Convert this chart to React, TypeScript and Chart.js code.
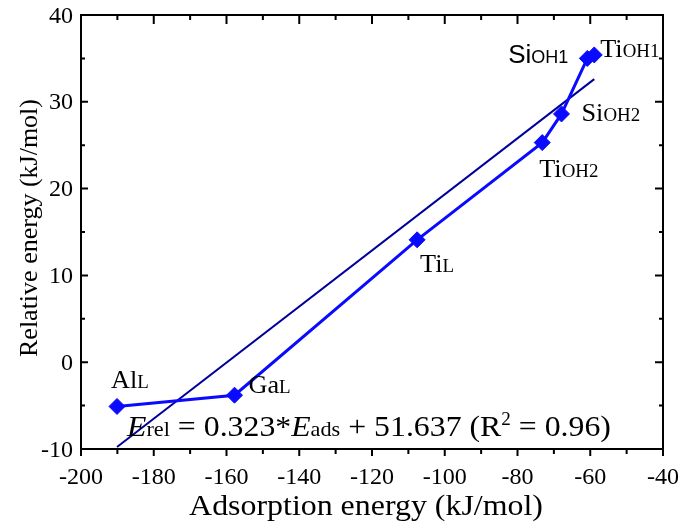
import React, { useEffect, useRef } from "react";
import { Chart, registerables } from "chart.js";

Chart.register(...registerables);

// ---------- data ----------
const pointNames = ["Al", "Ga", "Ti", "Ti", "Si", "Si", "Ti"];
const pointSubs = ["L", "L", "L", "OH2", "OH2", "OH1", "OH1"];
const adsorptionEnergy = [-190.1, -157.8, -107.6, -73.2, -67.9, -60.8, -58.9];
const relativeEnergy = [-5.1, -3.8, 14.1, 25.3, 28.6, 35.0, 35.4];
const fitX = [-190.1, -58.9];
const fitY = [-9.77, 32.61];
const xTickLabels = [-200, -180, -160, -140, -120, -100, -80, -60, -40];
const yTickLabels = [-10, 0, 10, 20, 30, 40];
const xTitle = "Adsorption energy (kJ/mol)";
const yTitle = "Relative energy (kJ/mol)";

// ---------- styles ----------
const BLUE = "#0a0aff";
const NAVY = "#00009a";
const SERIF = '"Liberation Serif", "Times New Roman", serif';
const SANS = '"Liberation Sans", Arial, sans-serif';

// label placement relative to each marker (dx, dy, align, family)
const labelPlacement = [
  { dx: -6, dy: -18, align: "left", sans: false },
  { dx: 14, dy: -2.5, align: "left", sans: false },
  { dx: 3, dy: 32, align: "left", sans: false },
  { dx: -3, dy: 34, align: "left", sans: false },
  { dx: 20, dy: 6.7, align: "left", sans: false },
  { dx: -19, dy: 5, align: "right", sans: true },
  { dx: 6, dy: 2.3, align: "left", sans: false },
];

type Run = { text: string; size: number; family: string; italic?: boolean; dy?: number };

function fontOf(r: Run) {
  return `${r.italic ? "italic " : ""}${r.size}px ${r.family}`;
}

function drawRuns(ctx: CanvasRenderingContext2D, runs: Run[], x: number, y: number, k: number, align: string) {
  let total = 0;
  const widths: number[] = [];
  for (const r of runs) {
    ctx.font = fontOf(r);
    const w = ctx.measureText(r.text).width * k;
    widths.push(w);
    total += w;
  }
  let cx = align === "right" ? x - total : align === "center" ? x - total / 2 : x;
  runs.forEach((r, i) => {
    ctx.save();
    ctx.font = fontOf(r);
    ctx.textAlign = "left";
    ctx.textBaseline = "alphabetic";
    ctx.translate(cx, y + (r.dy || 0));
    ctx.scale(k, 1);
    ctx.fillText(r.text, 0, 0);
    ctx.restore();
    cx += widths[i];
  });
}

const overlay = {
  id: "overlay",
  afterDraw(chart: any) {
    const ctx: CanvasRenderingContext2D = chart.ctx;
    const { left, right, top, bottom } = chart.chartArea;
    const xs = chart.scales.x;
    const ys = chart.scales.y;
    ctx.save();
    ctx.fillStyle = "#000";
    ctx.strokeStyle = "#000";

    // frame
    ctx.lineWidth = 2;
    ctx.beginPath();
    ctx.moveTo(left, bottom + 6);
    ctx.lineTo(left, top);
    ctx.lineTo(right, top);
    ctx.lineTo(right, bottom + 6);
    ctx.moveTo(left, bottom);
    ctx.lineTo(right, bottom);
    ctx.stroke();

    // ticks
    ctx.lineWidth = 2;
    ctx.beginPath();
    for (let i = 0; i < xTickLabels.length; i++) {
      const v = xTickLabels[i];
      const px = xs.getPixelForValue(v);
      ctx.moveTo(px, bottom); ctx.lineTo(px, bottom + 7);
      ctx.moveTo(px, top); ctx.lineTo(px, top + 9);
      if (i < xTickLabels.length - 1) {
        const m = xs.getPixelForValue((v + xTickLabels[i + 1]) / 2);
        ctx.moveTo(m, bottom); ctx.lineTo(m, bottom + 5);
        ctx.moveTo(m, top); ctx.lineTo(m, top + 5);
      }
    }
    for (let i = 0; i < yTickLabels.length; i++) {
      const v = yTickLabels[i];
      const py = ys.getPixelForValue(v);
      ctx.moveTo(left, py); ctx.lineTo(left + 7, py);
      ctx.moveTo(right, py); ctx.lineTo(right - 8, py);
      if (i < yTickLabels.length - 1) {
        const m = ys.getPixelForValue((v + yTickLabels[i + 1]) / 2);
        ctx.moveTo(left, m); ctx.lineTo(left + 4, m);
        ctx.moveTo(right, m); ctx.lineTo(right - 4, m);
      }
    }
    ctx.stroke();

    // tick labels
    for (const v of xTickLabels) {
      drawRuns(ctx, [{ text: String(v), size: 22.5, family: SERIF }], xs.getPixelForValue(v), bottom + 35, 1.07, "center");
    }
    for (const v of yTickLabels) {
      drawRuns(ctx, [{ text: String(v), size: 22.5, family: SERIF }], left - 8, ys.getPixelForValue(v) + 7.5, 1.07, "right");
    }

    // axis titles
    drawRuns(ctx, [{ text: xTitle, size: 29, family: SERIF }], (left + right) / 2 - 6, bottom + 66, 1.1, "center");
    ctx.save();
    ctx.translate(37, (top + bottom) / 2 - 4);
    ctx.rotate(-Math.PI / 2);
    drawRuns(ctx, [{ text: yTitle, size: 26, family: SERIF }], 0, 0, 1.0, "center");
    ctx.restore();

    // point labels
    for (let i = 0; i < pointNames.length; i++) {
      const p = labelPlacement[i];
      const px = xs.getPixelForValue(adsorptionEnergy[i]) + p.dx;
      const py = ys.getPixelForValue(relativeEnergy[i]) + p.dy;
      const fam = p.sans ? SANS : SERIF;
      drawRuns(
        ctx,
        [
          { text: pointNames[i], size: p.sans ? 26 : 25, family: fam },
          { text: pointSubs[i], size: 18, family: fam },
        ],
        px,
        py,
        p.sans ? 1.0 : 1.05,
        p.align
      );
    }

    // fit equation
    drawRuns(
      ctx,
      [
        { text: "E", size: 30, family: SERIF, italic: true },
        { text: "rel", size: 21, family: SERIF },
        { text: " = 0.323*", size: 30, family: SERIF },
        { text: "E", size: 30, family: SERIF, italic: true },
        { text: "ads", size: 21, family: SERIF },
        { text: " + 51.637 (R", size: 30, family: SERIF },
        { text: "2", size: 18, family: SERIF, dy: -11 },
        { text: " = 0.96)", size: 30, family: SERIF },
      ],
      left + 46,
      bottom - 13,
      1.06,
      "left"
    );
    ctx.restore();
  },
};

export default function App() {
  const ref = useRef<HTMLCanvasElement | null>(null);
  useEffect(() => {
    if (!ref.current) return;
    const chart = new Chart(ref.current, {
      type: "scatter",
      data: {
        datasets: [
          {
            label: "data",
            data: adsorptionEnergy.map((x, i) => ({ x, y: relativeEnergy[i] })),
            showLine: true,
            borderColor: BLUE,
            backgroundColor: BLUE,
            borderWidth: 3,
            pointStyle: "rectRot",
            pointRadius: 8,
            pointBorderWidth: 1,
            pointBackgroundColor: BLUE,
            pointBorderColor: BLUE,
            clip: false,
          } as any,
          {
            label: "fit",
            data: fitX.map((x, i) => ({ x, y: fitY[i] })),
            showLine: true,
            borderColor: NAVY,
            borderWidth: 2,
            pointRadius: 0,
            clip: false,
          } as any,
        ],
      },
      options: {
        animation: false,
        responsive: true,
        maintainAspectRatio: false,
        devicePixelRatio: 1,
        layout: { padding: { top: 15, right: 22, left: 0, bottom: 0 } },
        plugins: { legend: { display: false }, tooltip: { enabled: false } },
        scales: {
          x: {
            type: "linear",
            min: -200,
            max: -40,
            grid: { display: false },
            border: { display: false },
            ticks: { display: false, stepSize: 20 },
            afterFit: (s: any) => { s.height = 83; },
          },
          y: {
            type: "linear",
            min: -10,
            max: 40,
            grid: { display: false },
            border: { display: false },
            ticks: { display: false, stepSize: 10 },
            afterFit: (s: any) => { s.width = 81; },
          },
        },
      } as any,
      plugins: [overlay],
    });
    return () => chart.destroy();
  }, []);
  return (
    <div style={{ position: "absolute", left: 0, top: 0, width: 685, height: 532, background: "#fff" }}>
      <canvas ref={ref} />
    </div>
  );
}
